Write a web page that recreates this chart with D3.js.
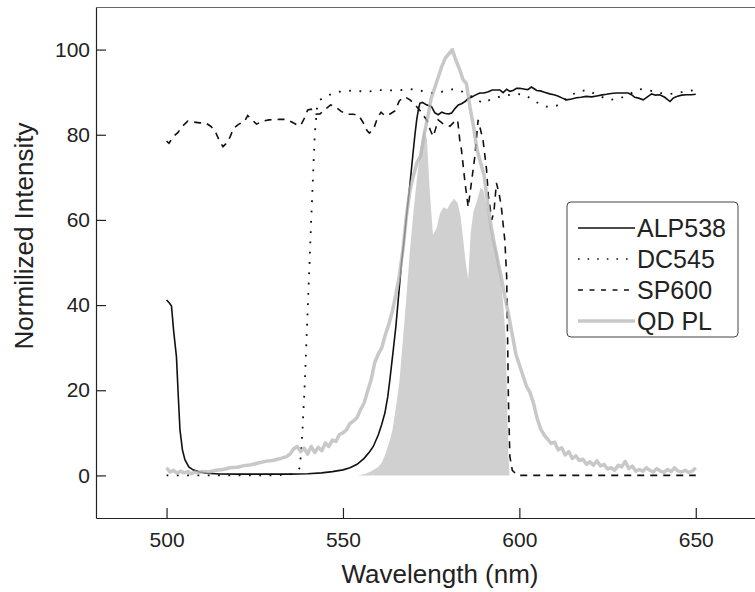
<!DOCTYPE html>
<html lang="en">
<head>
<meta charset="UTF-8">
<title>Normalized intensity</title>
<script src="https://cdn.jsdelivr.net/npm/d3@7"></script>
<style>
  body { margin: 0; background: #fff; }
  svg { display: block; font-family: "Liberation Sans", Arial, sans-serif; }
</style>
</head>
<body>
<script>
// ---- data ----
const xTicks = [500, 550, 600, 650];
const yTicks = [0, 20, 40, 60, 80, 100];

// ALP538 long-pass filter
const alpWl = [500, 500.8, 501.4, 502, 502.8, 503.3, 503.8, 504.5, 505.2, 506.3, 507.5, 509.4, 511.3, 515, 520, 525, 530, 535, 540, 544, 547, 550, 552, 554, 556, 557.5, 558.6, 560, 561, 561.9, 562.7, 563.3, 564.2, 565, 565.8, 566.6, 567.3, 568, 569, 569.9, 570.4, 570.9, 571.4, 571.8, 572.5, 573.5, 575.1, 576, 577, 578, 579, 580, 580.8, 581.8, 582.7, 583.6, 584.6, 585.5, 586.4, 587.5, 588.8, 590, 591.2, 592.3, 593.5, 594.5, 595.4, 596.4, 597.3, 598.2, 599.2, 600.1, 601.6, 602.4, 603.4, 604.2, 604.9, 606, 607.1, 608.6, 609.8, 610.9, 612.2, 613.4, 614.8, 616.2, 617.5, 618.9, 620.5, 621.9, 623.2, 624.7, 626, 627.5, 629, 630.8, 631.8, 632.7, 633.8, 635.1, 636.3, 637.5, 638.6, 639.8, 641.2, 642.7, 643.6, 644.6, 646, 647.4, 648.8, 650];
const alpVal = [41.2, 40.5, 39.8, 34, 27.9, 19, 10.7, 6, 3.7, 2.0, 1.3, 0.8, 0.5, 0.35, 0.3, 0.3, 0.3, 0.3, 0.4, 0.6, 0.9, 1.3, 1.8, 2.6, 4.0, 5.5, 6.8, 9.5, 12, 14.7, 18.5, 22.5, 29, 35, 42.5, 49.9, 55, 60.8, 68.5, 76, 80, 83.5, 86, 87.4, 87.6, 87.1, 86.6, 85.2, 84.7, 85.3, 85.0, 84.9, 85.1, 86.2, 87, 87.3, 87.8, 88.5, 88.8, 89.3, 89.8, 89.8, 90.1, 90.5, 90.5, 90.5, 89.9, 90.7, 90.2, 90.4, 90.9, 90.9, 90.7, 90.6, 91.2, 90.8, 90.4, 90.3, 90.0, 89.6, 89.4, 89.1, 88.6, 88.2, 88.4, 88.7, 88.8, 89.0, 88.9, 89.1, 89.3, 89.5, 89.7, 89.8, 89.8, 89.8, 89.4, 88.8, 88.6, 88.2, 88.9, 89.6, 89.3, 89.4, 88.8, 87.8, 88.6, 89.0, 89.3, 89.4, 89.4, 89.5];

// DC545 dichroic
const dcWl = [500, 510, 520, 530, 535, 537, 537.8, 538.5, 539.2, 540.1, 541, 542, 542.6, 543.5, 545, 546.3, 549, 552.8, 556.7, 560, 565, 570, 575.1, 578, 581.2, 584, 586.5, 589.7, 592.6, 596, 599, 601.6, 604.4, 607.7, 610.5, 613.5, 616.4, 619.2, 621.9, 625.2, 628.2, 631, 634.2, 637, 639.8, 642.9, 646, 648.8, 650];
const dcVal = [0, 0, 0, 0, 0.2, 1, 1.8, 10, 22, 41, 60, 80, 86, 88.2, 89, 89.4, 90.1, 90.4, 90.1, 90.5, 90.4, 90.7, 89.8, 90.1, 90.7, 90.1, 89, 87.4, 88.6, 89.2, 89.6, 89.4, 87.8, 86.6, 86.8, 88.5, 90.1, 90.5, 89.4, 88.2, 88.4, 89.5, 90.7, 90.4, 89.8, 89.6, 90, 90.4, 90.3];

// SP600 short-pass filter
const spWl = [500, 500.7, 501.8, 503.2, 504.5, 506, 507.5, 509.4, 511, 512.5, 513.7, 515, 516, 517, 518, 519, 520.5, 522, 523, 524, 525.5, 527.3, 529, 532, 534, 535.5, 537, 538, 539, 540, 541, 542, 543.5, 545, 546.5, 548, 549.5, 551, 553, 554.5, 556, 556.8, 557.5, 558.2, 558.8, 559.8, 560.8, 561.8, 563, 564.7, 566, 567.6, 569, 570.5, 572, 573.7, 574.8, 575.6, 576.3, 577, 578.5, 580.3, 581.5, 582.5, 583.1, 583.6, 584.6, 585.5, 586.4, 587.4, 588.3, 589.7, 590.7, 591.2, 592.2, 592.8, 593.5, 594.3, 594.9, 595.9, 596.4, 596.7, 596.9, 597.3, 598, 599.2, 600, 610, 620, 630, 640, 650];
const spVal = [78.5, 78, 79.5, 80.5, 82, 83.2, 83, 82.8, 82.8, 82, 81, 78.5, 77.2, 78, 79.5, 81.5, 82.5, 83, 84.5, 83.7, 82.5, 83.2, 83.5, 83.6, 83.6, 83, 82.3, 82.2, 83.8, 85.8, 86, 84.8, 84.9, 86, 87, 86.5, 85.5, 84.8, 84.8, 84.5, 82.5, 81, 80.4, 81, 81.6, 84, 85.3, 84.5, 84.7, 85.6, 88, 88.9, 88.2, 87, 85.5, 83.5, 81, 79.6, 81.5, 83.5, 82.5, 82, 83, 83.5, 78.8, 76.4, 68.7, 63, 68.7, 75, 83.5, 78.8, 71.8, 65.7, 60, 62, 68.7, 66, 63, 55, 46.7, 30, 17.8, 4.5, 1.2, 0.2, 0, 0, 0, 0, 0, 0];

// QD PL emission
const qdWl = [500, 501, 502, 503, 504, 505, 506, 507, 508, 509, 510, 512, 514, 516, 518, 520, 522, 524, 526, 528, 530, 532, 534, 535, 536, 537, 538, 539, 540, 541, 542, 543, 544, 545, 546, 547, 548, 549, 550, 551, 552, 553, 554, 555, 556, 557, 558, 559, 560, 561, 562, 563, 564, 565, 566, 567, 568, 569, 570, 571, 572, 573, 574, 575, 576, 577, 578, 579, 580, 581, 582, 583, 584, 585, 586, 587, 588, 589, 590, 591, 592, 593, 594, 595, 596, 597, 598, 599, 600, 601, 602, 603, 604, 605, 606, 607, 608, 609, 610, 611, 612, 613, 614, 615, 616, 617, 618, 619, 620, 621, 622, 623, 624, 625, 626, 627, 628, 629, 630, 631, 632, 633, 634, 635, 636, 637, 638, 639, 640, 641, 642, 643, 644, 645, 646, 647, 648, 649, 650];
const qdVal = [1.8, 0.8, 1.2, 0.5, 1.0, 0.6, 0.9, 0.4, 0.8, 0.6, 0.9, 0.8, 1.2, 1.4, 1.8, 1.9, 2.3, 2.5, 2.9, 3.3, 3.5, 3.9, 4.4, 5.0, 6.2, 6.8, 5.6, 6.4, 5.0, 6.8, 5.4, 6.6, 5.8, 7.6, 6.8, 8.3, 8.0, 9.6, 10.0, 10.7, 12.2, 12.8, 13.6, 15.5, 17.0, 19.8, 22.5, 26.5, 28.5, 30.0, 33.0, 35.5, 38.5, 42.5, 47.0, 53.0, 61.0, 67.0, 70.5, 73.5, 75.0, 80.0, 84.0, 88.5, 91.0, 93.5, 96.0, 98.0, 99.0, 100, 97.5, 95.5, 93.0, 92.0, 86.5, 82.0, 76.5, 73.5, 70.5, 64.0, 58.5, 54.0, 50.0, 46.0, 41.5, 37.5, 33.0, 28.5, 26.0, 23.5, 21.0, 19.5, 17.0, 13.5, 11.0, 9.5, 8.5, 7.5, 7.8, 6.0, 6.5, 4.8, 5.6, 4.0, 4.6, 3.5, 3.8, 2.6, 3.2, 2.4, 3.4, 2.2, 2.6, 1.5, 1.8, 1.2, 2.4, 2.0, 3.3, 1.6, 2.2, 1.0, 1.4, 1.0, 1.8, 1.2, 0.8, 1.6, 1.0, 0.7, 1.4, 0.9, 1.8, 1.0, 0.8, 1.2, 0.7, 1.0, 1.8];

// transmitted PL (filled area)
const fillWl = [554, 556, 558, 560, 561, 562, 563, 564, 565, 566, 567, 568, 569, 570, 571, 572, 573, 573.8, 574.5, 575.5, 576.5, 577.5, 578.5, 579.5, 580.5, 581.5, 582.5, 583.3, 584, 584.8, 585.5, 586.2, 587, 588, 589, 589.8, 590.5, 591.5, 592.5, 593.5, 594.5, 595.4, 596.1, 596.5, 596.9, 597.2];
const fillVal = [0, 0.3, 1.0, 2.0, 3.0, 5.0, 7.5, 10.5, 16, 22, 32, 42, 53, 62, 70, 77, 81.5, 79, 68, 56.5, 58, 61.5, 63, 62.5, 64, 65, 64, 61, 56, 50, 46, 57, 62, 64.5, 67.5, 67, 64, 60, 56, 53, 48, 40.5, 32.6, 18, 5, 0];

const legendNames = ["ALP538", "DC545", "SP600", "QD PL"];

// ---- layout ----
const W = 755, H = 592;
const mLeft = 96, mTop = 7, mBottom = 518;

const svg = d3.select("body").append("svg").attr("width", W).attr("height", H);

const x = d3.scaleLinear().domain([480, 670]).range([mLeft, mLeft + 190 * 3.528]);
const y = d3.scaleLinear().domain([-10, 110]).range([mBottom, mTop]);

svg.append("clipPath").attr("id", "clip")
  .append("rect").attr("x", mLeft).attr("y", mTop).attr("width", W - mLeft).attr("height", mBottom - mTop);

const plot = svg.append("g").attr("clip-path", "url(#clip)");
const zip = (a, b) => a.map((v, i) => [v, b[i]]);
const line = d3.line().x(d => x(d[0])).y(d => y(d[1]));
const area = d3.area().x(d => x(d[0])).y0(y(0)).y1(d => y(d[1]));

// filled transmitted PL
plot.append("path").datum(zip(fillWl, fillVal)).attr("d", area).attr("fill", "#d0d0d0");

// filter curves
plot.append("path").datum(zip(alpWl, alpVal)).attr("d", line)
  .attr("fill", "none").attr("stroke", "#111").attr("stroke-width", 1.6);
plot.append("path").datum(zip(dcWl, dcVal)).attr("d", line)
  .attr("fill", "none").attr("stroke", "#111").attr("stroke-width", 1.8).attr("stroke-dasharray", "1.8,8.5");
plot.append("path").datum(zip(spWl, spVal)).attr("d", line)
  .attr("fill", "none").attr("stroke", "#111").attr("stroke-width", 1.6).attr("stroke-dasharray", "7,6");

// QD PL line on top, a bit transparent
plot.append("path").datum(zip(qdWl, qdVal)).attr("d", line)
  .attr("fill", "none").attr("stroke", "#b6b6b6").attr("stroke-opacity", 0.75)
  .attr("stroke-width", 3.5).attr("stroke-linejoin", "round");

// ---- axes ----
const xAxis = svg.append("g").attr("transform", `translate(0,${mBottom})`)
  .call(d3.axisBottom(x).tickValues(xTicks).tickSizeInner(-10).tickSizeOuter(0).tickPadding(14));
const yAxis = svg.append("g").attr("transform", `translate(${mLeft},0)`)
  .call(d3.axisLeft(y).tickValues(yTicks).tickSizeInner(-10).tickSizeOuter(0).tickPadding(6));
[xAxis, yAxis].forEach(g => {
  g.selectAll("path, line").attr("stroke", "#222").attr("stroke-width", 1.2);
  g.selectAll("text").attr("font-size", 21).attr("fill", "#222")
    .attr("font-family", "'Liberation Sans', Arial, sans-serif");
});

// top frame line
svg.append("line").attr("x1", mLeft).attr("x2", W).attr("y1", mTop + 0.5).attr("y2", mTop + 0.5)
  .attr("stroke", "#666").attr("stroke-width", 1);

// axis titles
svg.append("text").attr("x", 440).attr("y", 583).attr("text-anchor", "middle")
  .attr("font-size", 26).attr("fill", "#222").text("Wavelength (nm)");
svg.append("text").attr("transform", "translate(33,236) rotate(-90)").attr("text-anchor", "middle")
  .attr("font-size", 26).attr("fill", "#222").text("Normilized Intensity");

// ---- legend ----
const leg = svg.append("g").attr("transform", "translate(567,202)");
leg.append("rect").attr("width", 171).attr("height", 135).attr("rx", 4)
  .attr("fill", "#fff").attr("stroke", "#444").attr("stroke-width", 1);
const legStyles = [
  { stroke: "#111", width: 1.6, dash: null },
  { stroke: "#111", width: 1.6, dash: "1.6,8" },
  { stroke: "#111", width: 1.6, dash: "5,6.5" },
  { stroke: "#c8c8c8", width: 3.5, dash: null }
];
legendNames.forEach((name, i) => {
  const yy = 26 + i * 31;
  leg.append("line").attr("x1", 11).attr("x2", 68).attr("y1", yy).attr("y2", yy)
    .attr("stroke", legStyles[i].stroke).attr("stroke-width", legStyles[i].width)
    .attr("stroke-dasharray", legStyles[i].dash);
  leg.append("text").attr("x", 70).attr("y", yy).attr("dy", "0.36em")
    .attr("font-size", 25).attr("fill", "#222").text(name);
});
</script>
</body>
</html>
